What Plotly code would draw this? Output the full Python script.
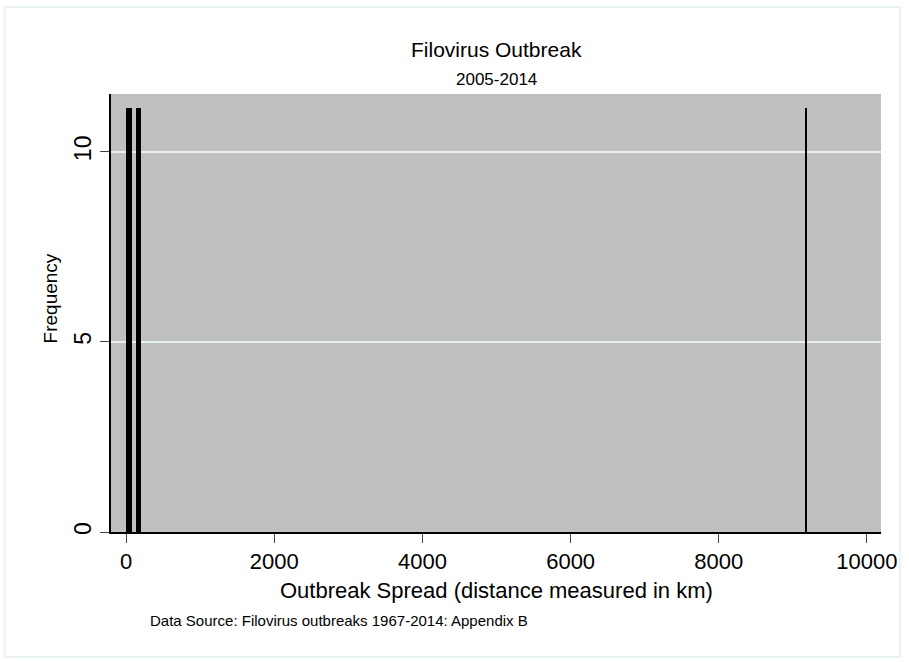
import plotly.graph_objects as go

# Data
spread_km = [36, 162, 9177]          # bar centres (km)
bin_width_km = [89, 63, 35]          # bar widths (km)
frequency = [11.15, 11.15, 11.15]    # bar heights
x_ticks = [0, 2000, 4000, 6000, 8000, 10000]
y_ticks = [0, 5, 10]

title_text = "Filovirus Outbreak"
subtitle_text = "2005-2014"
x_title = "Outbreak Spread (distance measured in km)"
y_title = "Frequency"
note_text = "Data Source: Filovirus outbreaks 1967-2014: Appendix B"

FONT = "Liberation Sans, Arial, Helvetica, sans-serif"

L, R, T, B = 111, 23, 94, 130
W, H = 909, 662
PW = W - L - R
PH = H - T - B

def px(xpix):
    return (xpix - L) / PW

def py(ypix):
    return (H - B - ypix) / PH

fig = go.Figure()
fig.add_trace(go.Bar(
    x=spread_km, y=frequency, width=bin_width_km,
    marker=dict(color="black", line=dict(width=0)),
    hoverinfo="x+y", showlegend=False,
))

fig.update_layout(
    width=W, height=H,
    margin=dict(l=L, r=R, t=T, b=B, pad=0),
    paper_bgcolor="white",
    plot_bgcolor="#c0c0c0",
    font=dict(family=FONT, color="black"),
    bargap=0,
    xaxis=dict(
        range=[-205, 10190], tickvals=x_ticks,
        ticktext=[str(v) for v in x_ticks],
        ticks="outside", ticklen=9, tickwidth=1, tickcolor="#444",
        showline=True, linecolor="black", linewidth=1.5,
        showgrid=False, zeroline=False,
        tickfont=dict(size=22, family=FONT),
    ),
    yaxis=dict(
        range=[0, 11.52], tickvals=y_ticks,
        ticktext=[str(v) for v in y_ticks],
        ticks="outside", ticklen=9, tickwidth=1, tickcolor="#444",
        showline=True, linecolor="black", linewidth=1.5,
        showgrid=True, gridcolor="#e6f0f0", gridwidth=2,
        zeroline=False, tickangle=-90,
        tickfont=dict(size=23, family=FONT),
    ),
    annotations=[
        dict(text=title_text, x=0.5, y=py(50), xref="paper", yref="paper",
             xanchor="center", yanchor="middle", showarrow=False,
             font=dict(size=21, family=FONT)),
        dict(text=subtitle_text, x=0.5, y=py(80), xref="paper", yref="paper",
             xanchor="center", yanchor="middle", showarrow=False,
             font=dict(size=17, family=FONT)),
        dict(text=x_title, x=0.5, y=py(590), xref="paper", yref="paper",
             xanchor="center", yanchor="middle", showarrow=False,
             font=dict(size=22, family=FONT)),
        dict(text=y_title, x=px(50), y=py(298), xref="paper", yref="paper",
             xanchor="center", yanchor="middle", showarrow=False, textangle=-90,
             font=dict(size=19, family=FONT)),
        dict(text=note_text, x=px(148), y=py(620), xref="paper", yref="paper",
             xanchor="left", yanchor="middle", showarrow=False,
             font=dict(size=15, family=FONT)),
    ],
    shapes=[
        dict(type="rect", xref="paper", yref="paper",
             x0=px(4), x1=px(905), y0=py(657), y1=py(7),
             line=dict(color="#eaf2f3", width=2), fillcolor="rgba(0,0,0,0)",
             layer="below"),
    ],
)

fig.write_html(
    "out.html",
    config={"displayModeBar": False},
    post_script="document.body.style.margin='0';document.body.style.overflow='hidden';",
)
